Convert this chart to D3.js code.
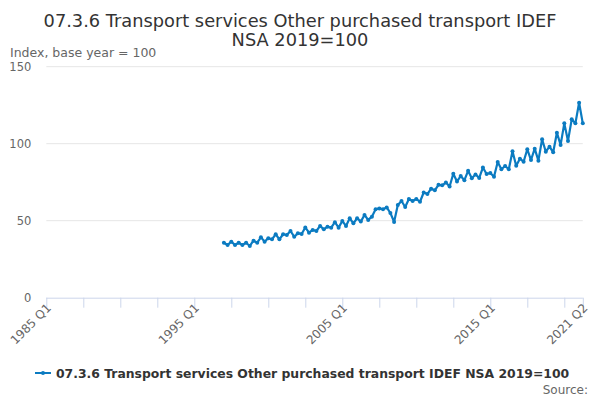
<!DOCTYPE html>
<html>
<head>
<meta charset="utf-8">
<script src="https://cdn.jsdelivr.net/npm/d3@7"></script>
<style>
  body { margin: 0; background: #fff; }
  text { font-family: "DejaVu Sans", sans-serif; }
</style>
</head>
<body>
<div id="chart"></div>
<script>
// quarters on the axis: 1985 Q1 .. 2021 Q2
var quarters = [];
for (var yr = 1985; yr <= 2021; yr++) {
  for (var q = 1; q <= 4; q++) {
    if (yr === 2021 && q > 2) break;
    quarters.push(yr + " Q" + q);
  }
}

var seriesName = "07.3.6 Transport services Other purchased transport IDEF NSA 2019=100";
var seriesStart = "1997 Q1";
var seriesValues = [
  35.7, 34.2, 36.4, 34.2, 35.7, 34.2, 35.7, 33.6, 37.0, 35.7, 39.2, 36.4,
  38.6, 37.9, 41.2, 37.9, 41.2, 40.7, 43.3, 39.6, 41.8, 41.4, 45.6, 42.2,
  44.0, 43.3, 46.6, 44.4, 46.1, 45.5, 49.0, 45.5, 49.8, 46.6, 51.6, 48.3,
  51.6, 49.4, 53.7, 50.5, 52.6, 57.4, 58.0, 57.4, 58.6, 55.0, 49.2, 60.2,
  62.8, 58.9, 64.1, 62.8, 64.1, 62.3, 68.3, 67.3, 70.8, 69.7, 73.3, 73.0,
  74.8, 72.2, 80.5, 75.5, 79.0, 76.3, 82.4, 77.6, 80.0, 77.8, 84.5, 80.3,
  81.0, 78.6, 88.1, 83.4, 85.5, 83.4, 95.1, 85.7, 90.3, 88.3, 96.4, 89.4,
  96.8, 89.0, 102.9, 94.8, 98.1, 94.4, 107.1, 99.2, 113.2, 101.8, 115.8, 113.2,
  126.6, 113.2
];
var yTicks = [0, 50, 100, 150];
var xTickLabels = ["1985 Q1", "1995 Q1", "2005 Q1", "2015 Q1", "2021 Q2"];

var width = 600, height = 400;
var svg = d3.select("#chart").append("svg")
  .attr("width", width)
  .attr("height", height);

var startIdx = quarters.indexOf(seriesStart);
var data = seriesValues.map(function (v, i) {
  return { q: quarters[startIdx + i], v: v };
});

var x = d3.scalePoint()
  .domain(quarters)
  .range([46.3, 582.8]);

var y = d3.scaleLinear()
  .domain([0, 150])
  .range([297.7, 66.7]);

// gridlines
svg.append("g")
  .selectAll("line")
  .data(yTicks.filter(function (d) { return d > 0; }))
  .enter().append("line")
  .attr("x1", 46.3)
  .attr("x2", 582.8)
  .attr("y1", function (d) { return y(d); })
  .attr("y2", function (d) { return y(d); })
  .attr("stroke", "#e6e6e6")
  .attr("stroke-width", 1);

// y axis labels
var yAxis = d3.axisLeft(y).tickValues(yTicks).tickSize(0).tickPadding(15);
svg.append("g")
  .attr("transform", "translate(46.3,0)")
  .call(yAxis)
  .call(function (g) { g.select(".domain").remove(); })
  .selectAll("text")
  .style("font-family", "DejaVu Sans")
  .style("font-size", "11.5px")
  .attr("fill", "#666");

// x axis: ticks every 10 quarters plus the last one
var tickQs = quarters.filter(function (d, i) { return i % 10 === 0; });
tickQs.push(quarters[quarters.length - 1]);
var xAxis = d3.axisBottom(x)
  .tickValues(tickQs)
  .tickSize(10)
  .tickFormat(function (d) { return xTickLabels.indexOf(d) >= 0 ? d : ""; });
var gx = svg.append("g")
  .attr("transform", "translate(0,297.7)")
  .call(xAxis);
gx.select(".domain").attr("stroke", "#ccd6eb").attr("d", "M46.3,0.5H582.8");
gx.selectAll(".tick line").attr("stroke", "#ccd6eb");
gx.selectAll("text")
  .style("font-family", "DejaVu Sans")
  .style("font-size", "12px")
  .attr("fill", "#666")
  .attr("text-anchor", "end")
  .attr("dy", null)
  .attr("y", 0)
  .attr("transform", "translate(5,11) rotate(-45)");

// line
var line = d3.line()
  .x(function (d) { return x(d.q); })
  .y(function (d) { return y(d.v); });

svg.append("path")
  .datum(data)
  .attr("fill", "none")
  .attr("stroke", "#0b7bc1")
  .attr("stroke-width", 2.2)
  .attr("stroke-linejoin", "round")
  .attr("d", line);

svg.append("g")
  .selectAll("circle")
  .data(data)
  .enter().append("circle")
  .attr("cx", function (d) { return x(d.q); })
  .attr("cy", function (d) { return y(d.v); })
  .attr("r", 2)
  .attr("fill", "#0b7bc1");

// title
svg.append("text")
  .attr("x", 300).attr("y", 27)
  .attr("text-anchor", "middle")
  .style("font-size", "17.8px")
  .attr("fill", "#333")
  .text("07.3.6 Transport services Other purchased transport IDEF");
svg.append("text")
  .attr("x", 300).attr("y", 46)
  .attr("text-anchor", "middle")
  .style("font-size", "17.8px")
  .attr("fill", "#333")
  .text("NSA 2019=100");

svg.append("text")
  .attr("x", 10).attr("y", 57)
  .style("font-size", "12.5px")
  .attr("fill", "#666")
  .text("Index, base year = 100");

// legend
var lg = svg.append("g").attr("transform", "translate(35,373)");
lg.append("line")
  .attr("x1", 0).attr("x2", 16)
  .attr("stroke", "#0b7bc1").attr("stroke-width", 2);
lg.append("circle").attr("cx", 8).attr("r", 2).attr("fill", "#0b7bc1");
lg.append("text")
  .attr("x", 21).attr("y", 4.5)
  .style("font-size", "12.4px")
  .style("font-weight", "bold")
  .attr("fill", "#333")
  .text(seriesName);

svg.append("text")
  .attr("x", 588).attr("y", 394)
  .attr("text-anchor", "end")
  .style("font-size", "12px")
  .attr("fill", "#666")
  .text("Source:");
</script>
</body>
</html>
